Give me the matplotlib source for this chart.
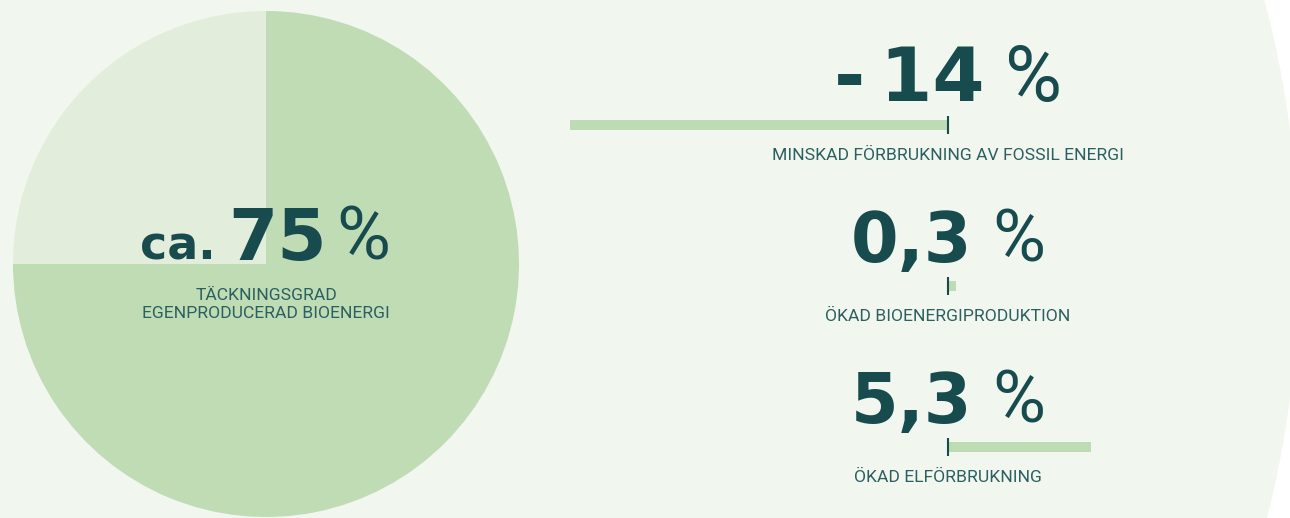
import matplotlib
matplotlib.use("Agg")
import matplotlib.pyplot as plt
from matplotlib.patches import Circle

# andel egenproducerad bioenergi
coverage = 75
coverage_label = "75"

categories = ["MINSKAD FÖRBRUKNING AV FOSSIL ENERGI",
              "ÖKAD BIOENERGIPRODUKTION",
              "ÖKAD ELFÖRBRUKNING"]
changes = [-14, 0.3, 5.3]
value_labels = ["-\u200914", "0,3", "5,3"]

DARK = "#174b4e"
LABEL = "#2b5f60"
PIE_MAIN = "#bfdcb5"
PIE_REST = "#e2eddc"
BG = "#f1f6ef"
BAR = "#bedcb3"

NUM = ["DejaVu Sans"]
PCT = ["Roboto", "DejaVu Sans"]
TXT = ["Roboto", "Liberation Sans", "DejaVu Sans"]

W, H = 1290, 518
fig = plt.figure(figsize=(W / 100, H / 100), dpi=100, facecolor="white")

# bakgrundsaxel i pixelkoordinater
ax = fig.add_axes([0, 0, 1, 1])
cx, cy = 266, H - 264
ax.add_patch(Circle((cx, cy), 1032, color=BG, zorder=0))
ax.pie([coverage, 100 - coverage], colors=[PIE_MAIN, PIE_REST],
       startangle=90, counterclock=False, center=(cx, cy), radius=253,
       wedgeprops=dict(linewidth=0))
ax.set_xlim(0, W)
ax.set_ylim(0, H)
ax.set_aspect("auto")
ax.axis("off")

# stapeldiagram
top, bottom = 60.6, 511.6
bx = fig.add_axes([570 / W, (H - bottom) / H, 521 / W, (bottom - top) / H])
ypos = list(range(len(changes)))
bx.barh(ypos, changes, height=0.062, color=BAR)
bx.vlines([0] * len(ypos), [y - 0.056 for y in ypos], [y + 0.056 for y in ypos],
          color=DARK, linewidth=1.5)
bx.set_xlim(min(changes), max(changes))
bx.set_ylim(2.4, -0.4)
bx.axis("off")
bx.patch.set_visible(False)

renderer = fig.canvas.get_renderer()


def group(x_c, y_base, parts, gaps):
    texts = []
    for s, size, weight, fam in parts:
        t = ax.text(0, y_base, s, fontsize=size, fontweight=weight, family=fam,
                    color=DARK, ha="left", va="baseline")
        texts.append(t)
    widths = [t.get_window_extent(renderer).width for t in texts]
    total = sum(widths) + sum(gaps)
    x = x_c - total / 2
    for i, t in enumerate(texts):
        t.set_x(x)
        x += widths[i] + (gaps[i] if i < len(gaps) else 0)


group(265.5, H - 260,
      [("ca.", 33, "bold", NUM), (coverage_label, 51, "bold", NUM), ("%", 53, "normal", PCT)],
      [12, 10])
ax.text(266, H - 300, "TÄCKNINGSGRAD", fontsize=12.6, family=TXT, color=LABEL,
        ha="center", va="baseline")
ax.text(266, H - 318, "EGENPRODUCERAD BIOENERGI", fontsize=12.6, family=TXT, color=LABEL,
        ha="center", va="baseline")

num_sizes = [54, 49.4, 49.4]
pct_sizes = [56, 52, 52]
for i, (lab, cat) in enumerate(zip(value_labels, categories)):
    x0, y0 = bx.transData.transform((0, i))
    group(x0, y0 + 24.5,
          [(lab, num_sizes[i], "bold", NUM), ("%", pct_sizes[i], "normal", PCT)], [20])
    ax.text(x0, y0 - 35, cat, fontsize=12.6, family=TXT, color=LABEL,
            ha="center", va="baseline")

fig.savefig("out.png", dpi=100, facecolor="white")
